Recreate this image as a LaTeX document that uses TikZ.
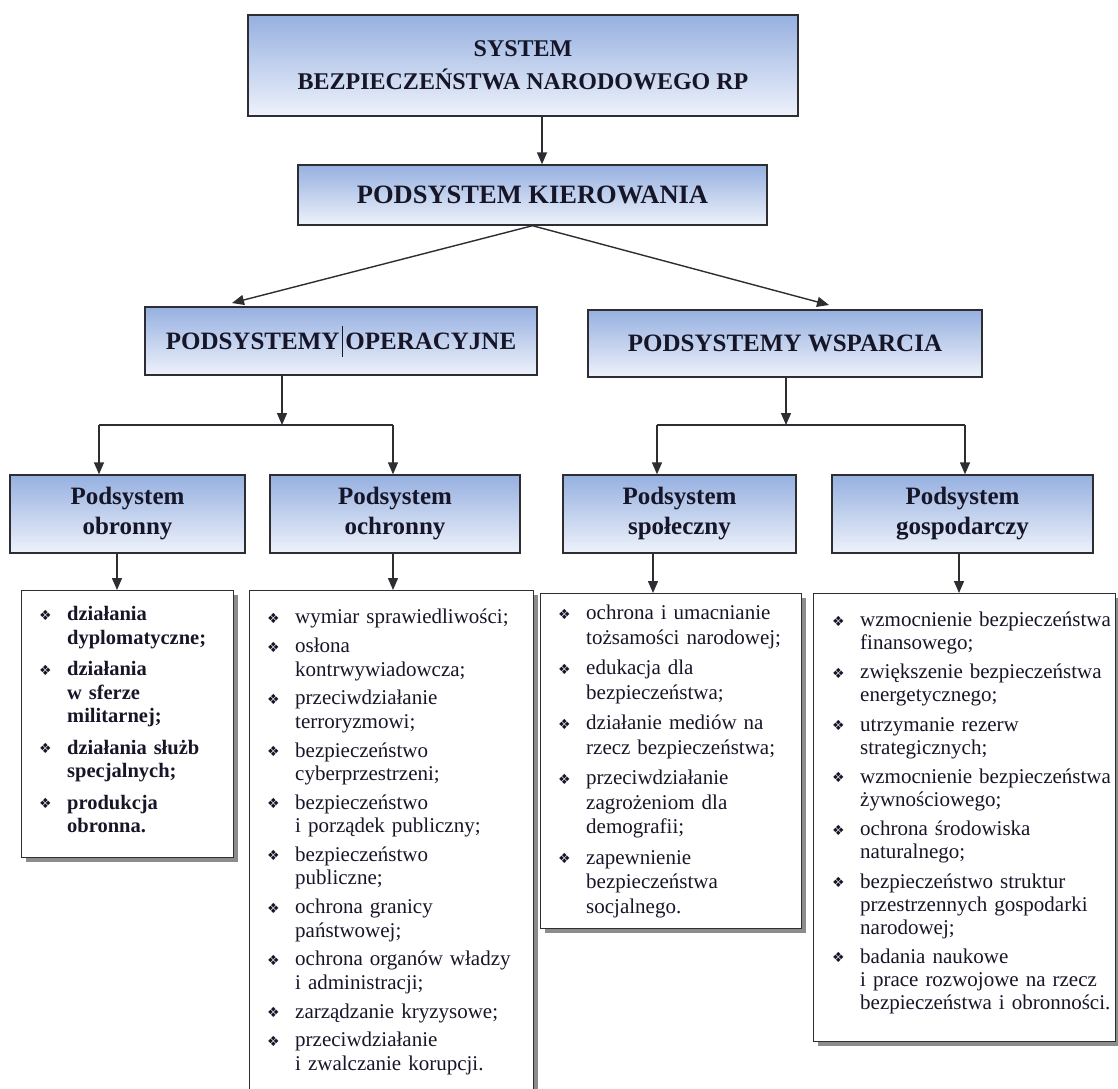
\documentclass[tikz,border=0pt]{standalone}
\usepackage{fontspec}
\setmainfont{Liberation Serif}
\newfontfamily\symf{DejaVu Sans}
\usetikzlibrary{arrows.meta,shadows}

\definecolor{hdrTop}{RGB}{150,176,224}
\definecolor{hdrBot}{RGB}{238,242,251}
\definecolor{frame}{RGB}{45,45,50}
\definecolor{ink}{RGB}{22,22,40}

% bullet, line break and hanging list item
\newcommand\bul{\makebox[28pt][l]{\raisebox{0.5pt}{\symf\fontsize{14}{14}\selectfont ❖}}}
\newcommand\nl{\hfil\break}
\newcommand\itm[1]{\par\hangindent=28pt\hangafter=1\noindent\strut\bul#1}

\tikzset{
  hdr/.style={draw=frame, line width=1.4pt, top color=hdrTop, bottom color=hdrBot,
    inner sep=0pt, align=center, text=ink, font=\bfseries\fontsize{25}{30}\selectfont},
  lbox/.style={draw=frame, line width=1.4pt, fill=white, anchor=north west, inner sep=0pt,
    drop shadow={shadow xshift=4pt, shadow yshift=-4pt, opacity=1, fill=black!45}},
  lst/.style={anchor=north west, inner sep=0pt, text width=330pt, text=ink},
  ln/.style={draw=frame, line width=1.4pt},
  arr/.style={ln, -{Triangle[length=12pt,width=10pt]}},
}

\begin{document}
\begin{tikzpicture}[x=1pt,y=-1pt]
\useasboundingbox (0,0) rectangle (1118,1088);
\fill[white] (0,0) rectangle (1118,1088);
\clip (0,0) rectangle (1118,1088);

% header boxes
\node[hdr, minimum width=550pt, minimum height=101pt, font=\bfseries\fontsize{24}{33}\selectfont]
  (sys) at (523,65.5) {SYSTEM\\BEZPIECZEŃSTWA NARODOWEGO RP};
\node[hdr, minimum width=469pt, minimum height=60pt, font=\bfseries\fontsize{26.5}{30}\selectfont]
  (kier) at (532.5,195) {PODSYSTEM KIEROWANIA};
\node[hdr, minimum width=392pt, minimum height=68pt] (ops) at (341,341)
  {PODSYSTEMY\kern2.5pt\rule[-7pt]{0.9pt}{31pt}\kern2.5pt OPERACYJNE};
\node[hdr, minimum width=394pt, minimum height=67pt] (wsp) at (785,343.5) {PODSYSTEMY WSPARCIA};

\node[hdr, minimum width=235pt, minimum height=78pt] (obr) at (127.5,514) {Podsystem\\obronny};
\node[hdr, minimum width=250pt, minimum height=78pt] (och) at (395,514) {Podsystem\\ochronny};
\node[hdr, minimum width=233pt, minimum height=78pt] (spo) at (679.5,514) {Podsystem\\społeczny};
\node[hdr, minimum width=261pt, minimum height=78pt] (gos) at (962.5,514) {Podsystem\\gospodarczy};

% list boxes
\node[lbox, minimum width=212pt, minimum height=267pt] (obrL) at (21,590) {};
\node[lbox, minimum width=284pt, minimum height=530pt] (ochL) at (249,590) {};
\node[lbox, minimum width=261pt, minimum height=335pt] (spoL) at (540,593) {};
\node[lbox, minimum width=302pt, minimum height=448pt] (gosL) at (813,593) {};

% list texts
\node[lst, font=\bfseries\fontsize{20.5}{23.5}\selectfont] (obrT) at (39,589) {\setlength\parskip{8pt}%
  \itm{działania\nl dyplomatyczne;}
  \itm{działania\nl w sferze\nl militarnej;}
  \itm{działania służb\nl specjalnych;}
  \itm{produkcja\nl obronna.}\par};

\node[lst, font=\fontsize{21}{23.5}\selectfont] (ochT) at (267,595) {\setlength\parskip{5.2pt}%
  \itm{wymiar sprawiedliwości;}
  \itm{osłona\nl kontrwywiadowcza;}
  \itm{przeciwdziałanie\nl terroryzmowi;}
  \itm{bezpieczeństwo\nl cyberprzestrzeni;}
  \itm{bezpieczeństwo\nl i porządek publiczny;}
  \itm{bezpieczeństwo\nl publiczne;}
  \itm{ochrona granicy\nl państwowej;}
  \itm{ochrona organów władzy\nl i administracji;}
  \itm{zarządzanie kryzysowe;}
  \itm{przeciwdziałanie\nl i zwalczanie korupcji.}\par};

\node[lst, font=\fontsize{21}{24.5}\selectfont] (spoT) at (558,589) {\setlength\parskip{6pt}%
  \itm{ochrona i umacnianie\nl tożsamości narodowej;}
  \itm{edukacja dla\nl bezpieczeństwa;}
  \itm{działanie mediów na\nl rzecz bezpieczeństwa;}
  \itm{przeciwdziałanie\nl zagrożeniom dla\nl demografii;}
  \itm{zapewnienie\nl bezpieczeństwa\nl socjalnego.}\par};

\node[lst, font=\fontsize{21}{23}\selectfont] (gosT) at (832,597) {\setlength\parskip{6.3pt}%
  \itm{wzmocnienie bezpieczeństwa\nl finansowego;}
  \itm{zwiększenie bezpieczeństwa\nl energetycznego;}
  \itm{utrzymanie rezerw\nl strategicznych;}
  \itm{wzmocnienie bezpieczeństwa\nl żywnościowego;}
  \itm{ochrona środowiska\nl naturalnego;}
  \itm{bezpieczeństwo struktur\nl przestrzennych gospodarki\nl narodowej;}
  \itm{badania naukowe\nl i prace rozwojowe na rzecz\nl bezpieczeństwa i obronności.}\par};

% connectors: top levels
\draw[arr] ([xshift=19pt]sys.south) -- ([xshift=19pt]sys.south |- kier.north);
\coordinate (opsTip) at (232,303);
\coordinate (wspTip) at (829,305);
\draw[arr] (kier.south) -- (opsTip);
\draw[arr] (kier.south) -- (wspTip);

% operational branch
\coordinate (opsJ) at (282,425);
\coordinate (opsL) at (99,425);
\coordinate (opsR) at (393,425);
\draw[arr] (opsJ |- ops.south) -- (opsJ);
\draw[ln] (opsL) -- (opsR);
\draw[arr] (opsL) -- (opsL |- obr.north);
\draw[arr] (opsR) -- (opsR |- och.north);

% support branch
\coordinate (wspJ) at (786,425);
\coordinate (wspL) at (657,425);
\coordinate (wspR) at (965,425);
\draw[arr] (wspJ |- wsp.south) -- (wspJ);
\draw[ln] (wspL) -- (wspR);
\draw[arr] (wspL) -- (wspL |- spo.north);
\draw[arr] (wspR) -- (wspR |- gos.north);

% headers to lists
\draw[arr] ([xshift=-10.5pt]obr.south) -- ([xshift=-10.5pt]obr.south |- obrL.north);
\draw[arr] ([xshift=-2pt]och.south) -- ([xshift=-2pt]och.south |- ochL.north);
\draw[arr] ([xshift=-26.5pt]spo.south) -- ([xshift=-26.5pt]spo.south |- spoL.north);
\draw[arr] ([xshift=-3.5pt]gos.south) -- ([xshift=-3.5pt]gos.south |- gosL.north);
\end{tikzpicture}
\end{document}
